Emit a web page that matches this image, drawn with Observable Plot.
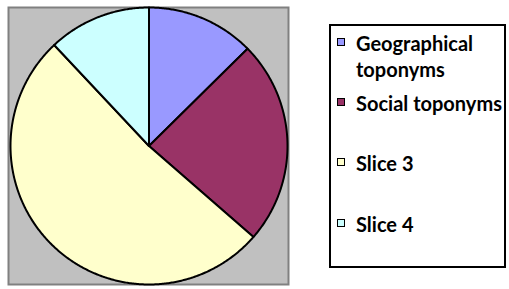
<!DOCTYPE html>
<html>
<head>
<meta charset="utf-8">
<script src="https://cdn.jsdelivr.net/npm/d3@7"></script>
<script src="https://cdn.jsdelivr.net/npm/@observablehq/plot@0.6"></script>
<style>
  html, body { margin: 0; padding: 0; background: #fff; }
  #wrap { position: relative; width: 509px; height: 289px; overflow: hidden; }
  #chart { position: absolute; left: 0; top: 0; }
  #legend {
    position: absolute; left: 329px; top: 24px; width: 173px; height: 240px;
    border: 2px solid #000; background: #fff;
    font-family: Lato, "Open Sans", sans-serif; font-weight: 700; font-size: 20px; color: #000;
  }
  .item { position: absolute; left: 0; width: 100%; }
  .sw { position: absolute; left: 6px; width: 6px; height: 6px; border: 1.5px solid #000; }
  .lb { position: absolute; left: 25px; width: 150px; line-height: 26px; white-space: normal; }
</style>
</head>
<body>
<div id="wrap">
  <div id="chart"></div>
  <div id="legend"></div>
</div>
<script>
const categories = ["Geographical toponyms", "Social toponyms", "Slice 3", "Slice 4"];
const values = [12.6, 23.8, 51.6, 12.0];
const colors = ["#9999FF", "#993366", "#FFFFCC", "#CCFFFF"];

// Pie geometry from the values (clockwise from 12 o'clock)
const arcs = d3.pie().sort(null).startAngle(0).endAngle(2 * Math.PI)(values);
const pts = [];
arcs.forEach((a, i) => {
  const name = categories[i];
  pts.push({name, x: 0, y: 0});
  const n = Math.max(2, Math.ceil((a.endAngle - a.startAngle) / (Math.PI / 360)));
  for (let k = 0; k <= n; k++) {
    const t = a.startAngle + (a.endAngle - a.startAngle) * k / n;
    pts.push({name, x: Math.sin(t), y: Math.cos(t)});
  }
  pts.push({name, x: 0, y: 0});
});

const chart = Plot.plot({
  width: 300,
  height: 289,
  marginLeft: 8,
  marginRight: 12,
  marginTop: 7,
  marginBottom: 5,
  x: {domain: [-1.0144, 1.0072], axis: null},
  y: {domain: [-1, 1], axis: null},
  color: {domain: categories, range: colors},
  style: {background: "transparent", overflow: "visible"},
  marks: [
    Plot.frame({fill: "#C0C0C0", stroke: "#808080", strokeWidth: 2}),
    Plot.line(pts, {x: "x", y: "y", z: "name", fill: "name", stroke: "#000", strokeWidth: 2, strokeLinejoin: "round"})
  ]
});
document.getElementById("chart").appendChild(chart);

// Legend
const legend = document.getElementById("legend");
categories.forEach((c, i) => {
  const item = document.createElement("div");
  item.className = "item";
  item.style.top = (4 + i * 60.2) + "px";
  const sw = document.createElement("div");
  sw.className = "sw";
  sw.style.background = colors[i];
  sw.style.top = "8px";
  const lb = document.createElement("div");
  lb.className = "lb";
  lb.textContent = c;
  item.appendChild(sw);
  item.appendChild(lb);
  legend.appendChild(item);
});
</script>
</body>
</html>
